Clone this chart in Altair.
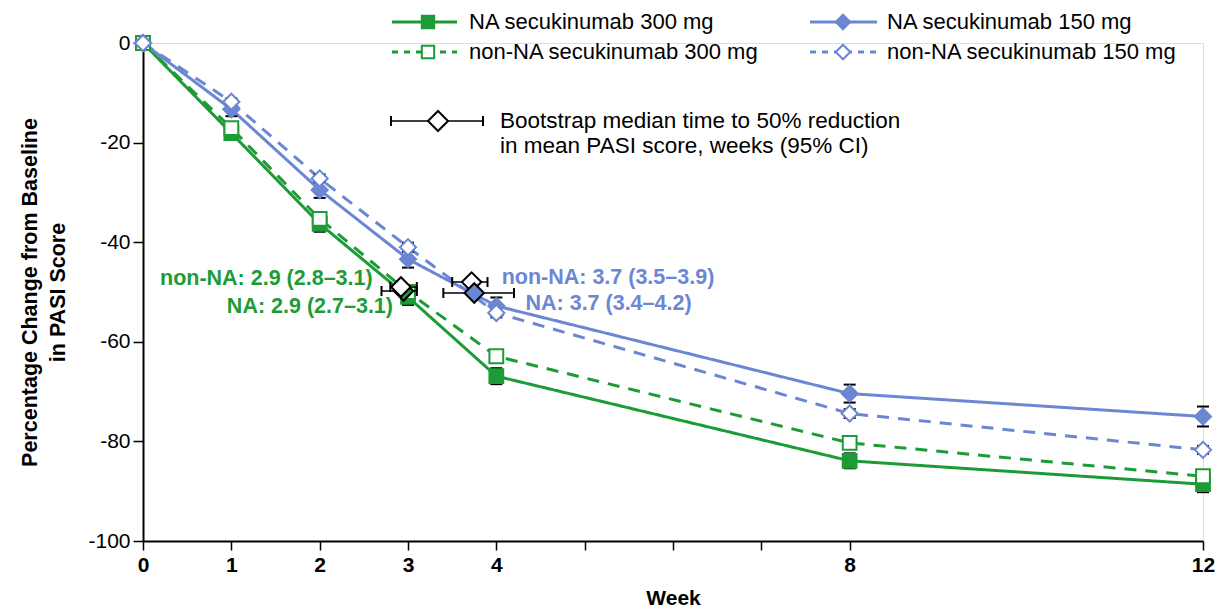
import altair as alt
import pandas as pd

# ---------------- data ----------------
weeks = [0, 1, 2, 3, 4, 8, 12]
series_names = [
    "NA secukinumab 300 mg",
    "non-NA secukinumab 300 mg",
    "NA secukinumab 150 mg",
    "non-NA secukinumab 150 mg",
]
na_300 = [0, -18.1, -36.3, -51.0, -66.9, -83.9, -88.6]
non_na_300 = [0, -17.1, -35.3, -50.0, -62.9, -80.3, -87.0]
na_150 = [0, -13.3, -29.5, -43.4, -52.8, -70.4, -75.0]
non_na_150 = [0, -11.8, -27.2, -41.0, -54.2, -74.4, -81.7]

se_na_300 = [0, 1.2, 1.6, 1.6, 1.6, 1.5, 1.6]
se_non_na_300 = [0, 0.6, 0.7, 0.7, 0.7, 0.7, 0.7]
se_na_150 = [0, 1.4, 1.6, 1.7, 1.7, 1.8, 2.0]
se_non_na_150 = [0, 0.7, 0.8, 0.9, 0.9, 0.9, 0.8]

# bootstrap median time to 50% reduction (weeks, 95% CI)
boot_groups = ["NA 300", "non-NA 300", "non-NA 150", "NA 150"]
boot_median = [2.95, 2.92, 3.72, 3.75]
boot_lo = [2.7, 2.8, 3.5, 3.4]
boot_hi = [3.1, 3.1, 3.9, 4.2]
boot_y = [-49.8, -49.0, -48.0, -50.2]

ann_text = ["non-NA: 2.9 (2.8\u20133.1)", "NA: 2.9 (2.7\u20133.1)",
            "non-NA: 3.7 (3.5\u20133.9)", "NA: 3.7 (3.4\u20134.2)"]
ann_x = [2.6, 2.83, 4.06, 4.33]
ann_y = [-47.4, -53.0, -47.1, -52.4]

x_ticks = [0, 1, 2, 3, 4, 5, 6, 7, 8, 12]
y_ticks = [-100, -80, -60, -40, -20, 0]

# ---------------- styles ----------------
GREEN = "#1c9b36"
BLUE = "#6b87d3"
FONT = "Liberation Sans"
colors = [GREEN, GREEN, BLUE, BLUE]
fills = [GREEN, "white", BLUE, "white"]
dashes = [[1, 0], [12, 9], [1, 0], [12, 9]]
boot_fills = [GREEN, "white", "white", BLUE]

values = [na_300, non_na_300, na_150, non_na_150]
ses = [se_na_300, se_non_na_300, se_na_150, se_non_na_150]
rows = []
for name, vals, se in zip(series_names, values, ses):
    for w, v, s in zip(weeks, vals, se):
        rows.append({"series": name, "week": w, "value": v, "lo": v - s, "hi": v + s})
df = pd.DataFrame(rows)
err_df = df[df["week"] > 0]

boot_df = pd.DataFrame({"group": boot_groups, "median": boot_median, "lo": boot_lo,
                        "hi": boot_hi, "y": boot_y, "order": list(range(4))})
ann_df = pd.DataFrame({"text": ann_text, "x": ann_x, "y": ann_y,
                       "grp": ["g", "g", "b", "b"],
                       "align": ["right", "right", "left", "left"]})

xscale = alt.Scale(domain=[0, 12], nice=False)
yscale = alt.Scale(domain=[-100, 0], nice=False)

x_axis = alt.Axis(
    values=x_ticks,
    labelExpr="(datum.value <= 4 || datum.value == 8 || datum.value == 12) ? ('' + datum.value) : ''",
    title="Week", titleFontSize=21, titleFontWeight="bold", titlePadding=12,
    labelFontSize=21, labelFontWeight="bold", labelPadding=4,
    tickSize=9, tickWidth=1.5, tickColor="black", domainColor="black", domainWidth=2,
    grid=False, labelFlush=False, labelColor="black", titleColor="black",
)
y_axis = alt.Axis(
    values=y_ticks,
    labelExpr="'' + datum.value",
    title=["Percentage Change from Baseline", "in PASI Score"],
    titleFontSize=21.5, titleFontWeight="bold", titlePadding=18, titleLineHeight=28,
    labelFontSize=21, labelPadding=3, labelColor="black", titleColor="black",
    tickSize=10, tickWidth=1.5, tickColor="black", domainColor="black", domainWidth=2,
    grid=False,
)

color_scale = alt.Scale(domain=series_names, range=colors)
fill_scale = alt.Scale(domain=series_names, range=fills)
dash_scale = alt.Scale(domain=series_names, range=dashes)

base = alt.Chart(df).encode(
    x=alt.X("week:Q", scale=xscale, axis=x_axis),
    y=alt.Y("value:Q", scale=yscale, axis=y_axis),
)

err_rule = alt.Chart(err_df).mark_rule(color="black", strokeWidth=1.6).encode(
    x=alt.X("week:Q", scale=xscale), y=alt.Y("lo:Q", scale=yscale), y2="hi:Q")
cap_lo = alt.Chart(err_df).mark_point(shape="M-1,0L1,0", size=144, stroke="black",
                                       strokeWidth=2, opacity=1).encode(
    x=alt.X("week:Q", scale=xscale), y=alt.Y("lo:Q", scale=yscale))
cap_hi = alt.Chart(err_df).mark_point(shape="M-1,0L1,0", size=144, stroke="black",
                                       strokeWidth=2, opacity=1).encode(
    x=alt.X("week:Q", scale=xscale), y=alt.Y("hi:Q", scale=yscale))

lines = base.mark_line(strokeWidth=3).encode(
    color=alt.Color("series:N", scale=color_scale, legend=None),
    strokeDash=alt.StrokeDash("series:N", scale=dash_scale, legend=None),
    detail="series:N",
)

sq_df = df[df["series"].str.contains("300")]
di_df = df[df["series"].str.contains("150")]
pts_sq = alt.Chart(sq_df).mark_point(size=190, strokeWidth=2, opacity=1, shape="square").encode(
    x=alt.X("week:Q", scale=xscale), y=alt.Y("value:Q", scale=yscale),
    stroke=alt.Stroke("series:N", scale=color_scale, legend=None),
    fill=alt.Fill("series:N", scale=fill_scale, legend=None),
)
pts_di = alt.Chart(di_df).mark_point(size=260, strokeWidth=2, opacity=1, shape="diamond").encode(
    x=alt.X("week:Q", scale=xscale), y=alt.Y("value:Q", scale=yscale),
    stroke=alt.Stroke("series:N", scale=color_scale, legend=None),
    fill=alt.Fill("series:N", scale=fill_scale, legend=None),
)

# bootstrap medians with CI
boot_rule = alt.Chart(boot_df).mark_rule(color="black", strokeWidth=1.6).encode(
    x=alt.X("lo:Q", scale=xscale), x2="hi:Q", y=alt.Y("y:Q", scale=yscale))
boot_cap_lo = alt.Chart(boot_df).mark_point(shape="M0,-1L0,1", size=100, stroke="black",
                                            strokeWidth=2, opacity=1).encode(
    x=alt.X("lo:Q", scale=xscale), y=alt.Y("y:Q", scale=yscale))
boot_cap_hi = alt.Chart(boot_df).mark_point(shape="M0,-1L0,1", size=100, stroke="black",
                                            strokeWidth=2, opacity=1).encode(
    x=alt.X("hi:Q", scale=xscale), y=alt.Y("y:Q", scale=yscale))
boot_pts = alt.Chart(boot_df).mark_point(shape="diamond", size=380, stroke="black",
                                         strokeWidth=2, opacity=1).encode(
    x=alt.X("median:Q", scale=xscale), y=alt.Y("y:Q", scale=yscale),
    fill=alt.Fill("group:N", scale=alt.Scale(domain=boot_groups, range=boot_fills), legend=None),
    order=alt.Order("order:Q"),
)

ann_layers = []
for al in ["right", "left"]:
    sub = ann_df[ann_df["align"] == al]
    ann_layers.append(
        alt.Chart(sub).mark_text(align=al, baseline="middle", font=FONT, fontSize=21.5,
                                 fontWeight="bold").encode(
            x=alt.X("x:Q", scale=xscale), y=alt.Y("y:Q", scale=yscale), text="text:N",
            color=alt.Color("grp:N", scale=alt.Scale(domain=["g", "b"], range=[GREEN, BLUE]),
                            legend=None),
        )
    )

# ---------------- manual legend (pixel positions) ----------------
one = pd.DataFrame({"k": [0]})
leg = []
leg_rows = [
    (series_names[0], GREEN, GREEN, "square", 190, [1, 0], 249, 314, 285, 326, -21),
    (series_names[1], GREEN, "white", "square", 190, [6, 6], 249, 314, 285, 326, 9),
    (series_names[2], BLUE, BLUE, "diamond", 260, [1, 0], 667, 734, 700, 744, -21),
    (series_names[3], BLUE, "white", "diamond", 260, [6, 6], 667, 734, 700, 744, 9),
]
for label, col, fil, shp, sz, dash, x1, x2, xm, xt, yy in leg_rows:
    leg.append(alt.Chart(one).mark_rule(color=col, strokeWidth=3, strokeDash=dash).encode(
        x=alt.value(x1), x2=alt.value(x2), y=alt.value(yy)))
    leg.append(alt.Chart(one).mark_point(shape=shp, size=sz * 0.8, stroke=col, fill=fil,
                                         strokeWidth=2, opacity=1).encode(
        x=alt.value(xm), y=alt.value(yy)))
    leg.append(alt.Chart(one).mark_text(text=label, align="left", baseline="middle",
                                        font=FONT, fontSize=22, color="black").encode(
        x=alt.value(xt), y=alt.value(yy)))

by = 78
leg.append(alt.Chart(one).mark_rule(color="black", strokeWidth=1.6).encode(
    x=alt.value(247), x2=alt.value(341), y=alt.value(by)))
leg.append(alt.Chart(one).mark_rule(color="black", strokeWidth=2).encode(
    x=alt.value(248), y=alt.value(by - 5), y2=alt.value(by + 5)))
leg.append(alt.Chart(one).mark_rule(color="black", strokeWidth=2).encode(
    x=alt.value(340), y=alt.value(by - 5), y2=alt.value(by + 5)))
leg.append(alt.Chart(one).mark_point(shape="diamond", size=400, stroke="black", fill="white",
                                     strokeWidth=2, opacity=1).encode(
    x=alt.value(295), y=alt.value(by)))
leg.append(alt.Chart(one).mark_text(text="Bootstrap median time to 50% reduction", align="left",
                                    baseline="middle", font=FONT, fontSize=22.5, color="black").encode(
    x=alt.value(357), y=alt.value(by)))
leg.append(alt.Chart(one).mark_text(text="in mean PASI score, weeks (95% CI)", align="left",
                                    baseline="middle", font=FONT, fontSize=22.5, color="black").encode(
    x=alt.value(357), y=alt.value(by + 25)))

chart = alt.layer(
    lines, err_rule, cap_lo, cap_hi, pts_sq, pts_di,
    boot_rule, boot_cap_lo, boot_cap_hi, boot_pts,
    *ann_layers, *leg
).resolve_scale(color="independent", fill="independent").properties(
    width=1060, height=498,
    autosize=alt.AutoSizeParams(type="none"),
    padding={"left": 143, "top": 43, "right": 24, "bottom": 68},
).configure_view(stroke=None).configure_axis(
    labelFont=FONT, titleFont=FONT
).configure(background="white")

chart.save("out.html", embed_options={"renderer": "svg", "actions": False})
